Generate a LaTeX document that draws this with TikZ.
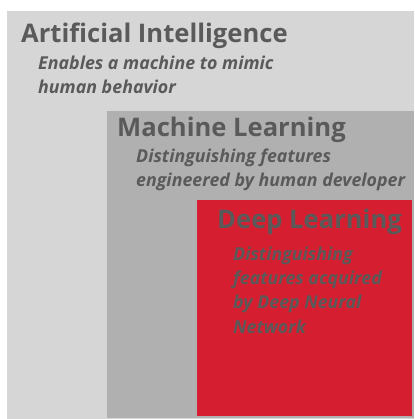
\documentclass[tikz,border=0pt]{standalone}
\usepackage{fontspec}
\setmainfont{Open Sans}
\usepackage{xcolor}
\usepackage{tikz}
\usetikzlibrary{positioning}
\definecolor{aigray}{RGB}{214, 214, 214}
\definecolor{mlgray}{RGB}{176, 176, 177}
\definecolor{dlred}{RGB}{213, 31, 48}
\definecolor{labelgray}{RGB}{90, 90, 90}

\tikzset{
    title/.style={anchor=base west, inner sep=0pt, text=labelgray, font=\fontsize{25.6}{30}\selectfont\bfseries},
    % multi-line nodes: base is the last line
    blurb/.style={anchor=base west, inner sep=0pt, text=labelgray, align=left, font=\fontsize{17.8}{24.3}\selectfont\bfseries\itshape}
}

\begin{document}
\begin{tikzpicture}[x=1pt, y=-1pt]
        \useasboundingbox (0, 0) rectangle (414, 419);
        \fill[white] (0, 0) rectangle (414, 419);

        % Nested areas
        \fill[aigray] (7, 11) rectangle (414, 419);
        \fill[mlgray] (107, 111) rectangle (414, 418);
        \fill[dlred] (197, 200) rectangle (412, 416);

        % Artificial Intelligence
        \node[title] (aititle) at (21, 43) {Artificial Intelligence};
        \node[blurb] (aitext) at (38, 94) {Enables a machine to mimic\\human behavior};

        % Machine Learning
        \node[title] (mltitle) at (117, 137) {Machine Learning};
        \node[blurb] (mltext) at (136, 187) {Distinguishing features\\engineered by human developer};

        % Deep Learning
        \node[title] (dltitle) at (217, 228) {Deep Learning};
        \node[blurb] (dltext) at (233, 333) {Distinguishing\\features acquired\\by Deep Neural\\Network};
\end{tikzpicture}
\end{document}
